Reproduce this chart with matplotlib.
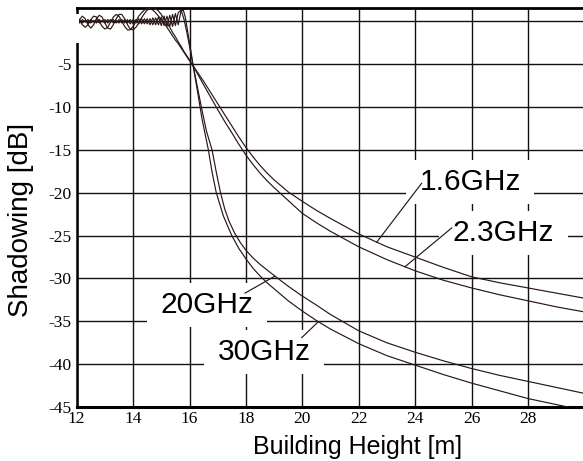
import matplotlib
matplotlib.use("Agg")
import matplotlib.pyplot as plt
from matplotlib.patches import Rectangle
import numpy as np

# ---------------- data ----------------
x_16 = [12.0, 12.1, 12.2, 12.3, 12.4, 12.5, 12.6, 12.7, 12.8, 12.9,
        13.0, 13.1, 13.2, 13.3, 13.4, 13.5, 13.6, 13.7, 13.8, 13.9,
        14.0, 14.1, 14.2, 14.3, 14.4, 14.5, 14.6, 14.7, 14.8, 14.9,
        15.0, 15.1, 15.2, 15.3, 15.4, 15.5, 15.6, 15.7, 15.8, 15.9,
        16.0, 16.13, 16.5, 16.75, 17.0, 17.25, 17.5, 17.75, 18.0, 18.25,
        18.5, 18.75, 19.0, 19.5, 20.0, 20.5, 21.0, 22.0, 23.0, 24.0,
        25.0, 26.0, 27.0, 28.0, 29.0, 30.0]
y_16 = [0.4, 0.1, -0.4, -0.7, -0.4, 0.2, 0.6, 0.5, 0.0, -0.6,
        -0.9, -0.7, -0.1, 0.5, 0.8, 0.6, 0.0, -0.6, -1.0, -1.0,
        -0.6, 0.0, 0.6, 1.0, 1.3, 1.5, 1.5, 1.3, 1.0, 0.6,
        0.2, -0.2, -0.7, -1.2, -1.7, -2.2, -2.6, -3.1, -3.6, -4.1,
        -4.6, -5.2, -7.0, -8.3, -9.6, -10.9, -12.2, -13.5, -14.7, -15.8,
        -16.8, -17.7, -18.5, -19.9, -21.0, -22.05, -23.0, -24.8, -26.3, -27.5,
        -28.7, -29.8, -30.5, -31.1, -31.7, -32.3]

x_23 = x_16
y_23 = [-0.5, 0.2, 0.6, 0.3, -0.4, -0.8, -0.4, 0.3, 0.7, 0.5,
        -0.2, -0.8, -0.9, -0.4, 0.3, 0.8, 0.8, 0.3, -0.4, -0.9,
        -1.0, -0.7, -0.2, 0.4, 0.9, 1.3, 1.5, 1.6, 1.5, 1.2,
        0.8, 0.3, -0.2, -0.7, -1.3, -1.8, -2.4, -2.9, -3.5, -4.0,
        -4.5, -5.2, -7.4, -8.85, -10.3, -11.7, -13.0, -14.35, -15.6, -16.7,
        -17.7, -18.6, -19.4, -20.9, -22.4, -23.5, -24.5, -26.3, -27.8, -29.1,
        -30.2, -31.1, -31.9, -32.6, -33.3, -33.9]

x_20 = [12.0, 12.1, 12.2, 12.3, 12.4, 12.5, 12.6, 12.7, 12.8, 12.9,
        13.0, 13.1, 13.2, 13.3, 13.4, 13.5, 13.6, 13.7, 13.8, 13.9,
        14.0, 14.1, 14.2, 14.3, 14.4, 14.5, 14.6, 14.7, 14.8, 14.9,
        15.0, 15.1, 15.2, 15.3, 15.4, 15.5, 15.6, 15.7,
        15.8, 15.9, 16.0, 16.13, 16.3, 16.42, 16.6, 16.8, 16.95, 17.1,
        17.25, 17.4, 17.6, 17.8, 18.0, 18.25, 18.5, 18.75, 19.0, 19.5,
        20.0, 20.5, 21.0, 22.0, 23.0, 24.0, 25.0, 26.0, 27.0, 28.0,
        29.0, 30.0]
y_20 = [0.1, -0.2, 0.2, -0.1, 0.2, -0.2, 0.1, -0.2, 0.2, -0.1,
        0.2, -0.2, 0.2, -0.2, 0.1, -0.2, 0.2, -0.2, 0.2, -0.3,
        0.2, -0.2, 0.3, -0.3, 0.3, -0.3, 0.3, -0.4, 0.4, -0.4,
        0.5, -0.5, 0.6, -0.6, 0.8, -0.5, 1.0, 1.3,
        0.3, -1.2, -2.9, -5.2, -8.0, -10.0, -12.8, -15.0, -17.6, -20.0,
        -21.9, -23.3, -24.7, -25.8, -26.7, -27.6, -28.35, -29.0, -29.65, -30.9,
        -32.05, -33.1, -34.2, -36.1, -37.5, -38.6, -39.6, -40.5, -41.3, -42.0,
        -42.7, -43.4]

x_30 = [12.0, 12.1, 12.2, 12.3, 12.4, 12.5, 12.6, 12.7, 12.8, 12.9,
        13.0, 13.1, 13.2, 13.3, 13.4, 13.5, 13.6, 13.7, 13.8, 13.9,
        14.0, 14.1, 14.2, 14.3, 14.4, 14.5, 14.6, 14.7, 14.8, 14.9,
        15.0, 15.1, 15.2, 15.3, 15.4, 15.5, 15.6, 15.7,
        15.78, 15.85, 15.95, 16.05, 16.13, 16.3, 16.45, 16.67, 16.8, 16.95,
        17.2, 17.5, 17.75, 18.0, 18.25, 18.5, 18.75, 19.0, 19.5, 20.0,
        20.5, 21.0, 22.0, 23.0, 24.0, 25.0, 26.0, 27.0, 28.0, 29.0,
        30.0]
y_30 = [-0.1, 0.2, -0.2, 0.1, -0.2, 0.2, -0.1, 0.2, -0.2, 0.1,
        -0.2, 0.2, -0.1, 0.2, -0.2, 0.2, -0.2, 0.2, -0.2, 0.2,
        -0.3, 0.2, -0.3, 0.3, -0.3, 0.3, -0.4, 0.4, -0.4, 0.5,
        -0.5, 0.6, -0.6, 0.7, -0.6, 0.9, -0.4, 1.2,
        1.3, 0.5, -1.5, -3.5, -5.2, -8.5, -11.5, -15.0, -17.6, -20.0,
        -22.7, -25.0, -26.5, -27.7, -28.8, -29.7, -30.5, -31.2, -32.6, -33.8,
        -34.9, -35.9, -37.6, -39.0, -40.1, -41.2, -42.2, -43.1, -44.0, -44.7,
        -45.4]

series_x = [x_16, x_23, x_20, x_30]
series_y = [y_16, y_23, y_20, y_30]
series_names = ["1.6GHz", "2.3GHz", "20GHz", "30GHz"]

# label text anchor (left, baseline), leader start, leader end x
label_pos = [(24.15, -19.7), (25.33, -25.6), (14.98, -34.05), (16.99, -39.5)]
leader_start = [(24.23, -18.9), (25.30, -24.1), (17.97, -31.7), (19.98, -36.9)]
leader_end_x = [22.64, 23.64, 19.03, 20.57]

x_ticks = [12, 14, 16, 18, 20, 22, 24, 26, 28, 30]
x_ticklabels = ["12", "14", "16", "18", "20", "22", "24", "26", "28", ""]
y_ticks = [0, -5, -10, -15, -20, -25, -30, -35, -40, -45]
y_ticklabels = ["", "-5", "-10", "-15", "-20", "-25", "-30", "-35", "-40", "-45"]

# ---------------- figure ----------------
W, H = 583, 461
fig = plt.figure(figsize=(W / 100, H / 100), dpi=100)
ax = fig.add_axes([76.7 / W, 1 - 407.1 / H, 507.6 / W, (407.1 - 8) / H])
ax.set_xlim(12, 30)
ax.set_ylim(-45, 1.55)

line_col = "#2a1616"
for xs, ys in zip(series_x, series_y):
    ax.plot(xs, ys, color=line_col, lw=0.85, zorder=3, solid_joinstyle="round")

ax.set_xticks(x_ticks)
ax.set_xticklabels(x_ticklabels)
ax.set_yticks(y_ticks)
ax.set_yticklabels(y_ticklabels)
ax.tick_params(length=0, pad=3.5)
for lab in ax.get_xticklabels() + ax.get_yticklabels():
    lab.set_fontfamily("Liberation Serif")
    lab.set_fontsize(12.5)
ax.tick_params(axis="x", pad=2.5)

ax.grid(True, color="#111111", lw=1.0, zorder=0.5)
ax.set_axisbelow(True)

ax.spines["right"].set_visible(False)
ax.spines["top"].set_linewidth(2.0)
ax.spines["bottom"].set_linewidth(2.2)
ax.spines["left"].set_linewidth(1.8)
for s in ax.spines.values():
    s.set_color("black")

# small gap in the left axis line near the top, as in the reference
fig.patches.append(Rectangle((73 / W, 1 - 43 / H), 5.5 / W, 29 / H,
                             transform=fig.transFigure, fc="white", ec="none",
                             zorder=10))

for name, (tx, ty), (sx, sy), ex, xs, ys in zip(series_names, label_pos, leader_start,
                                               leader_end_x, series_x, series_y):
    ax.text(tx, ty, name, fontfamily="Liberation Sans", fontsize=21.5,
            ha="left", va="baseline", zorder=2,
            bbox=dict(boxstyle="square,pad=0.45", fc="white", ec="none",
                      mutation_aspect=0.6))
    ey = np.interp(ex, xs, ys)
    ax.plot([sx, ex], [sy, ey], color=line_col, lw=0.85, zorder=3)

fig.text(358 / W, 1 - 454 / H, "Building Height [m]", fontfamily="Liberation Sans",
         fontsize=18, ha="center", va="baseline")
fig.text(21 / W, 1 - 220 / H, "Shadowing [dB]", fontfamily="Liberation Sans",
         fontsize=20, ha="center", va="center", rotation=90)

fig.savefig("out.png", dpi=100)
